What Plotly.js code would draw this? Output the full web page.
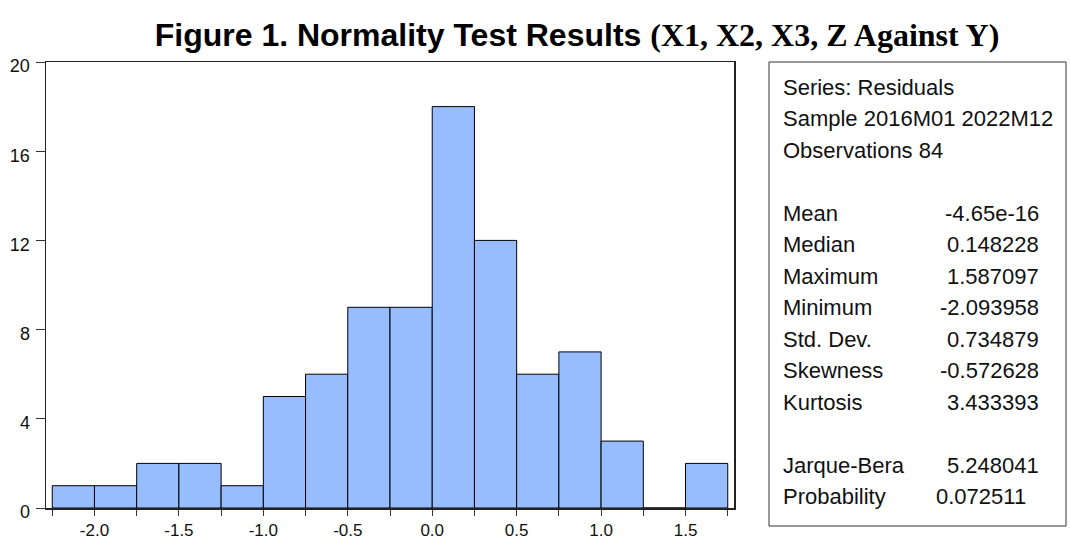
<!DOCTYPE html>
<html>
<head>
<meta charset="utf-8">
<script src="https://cdn.plot.ly/plotly-3.0.1.min.js"></script>
<style>html,body{margin:0;padding:0;background:#fff;}#chart{width:1070px;height:539px;}</style>
</head>
<body>
<div id="chart"></div>
<script>
// ---- data ----
const binLower = [-2.25, -2.0, -1.75, -1.5, -1.25, -1.0, -0.75, -0.5, -0.25, 0.0, 0.25, 0.5, 0.75, 1.0, 1.25, 1.5];
const binCounts = [1, 1, 2, 2, 1, 5, 6, 9, 9, 18, 12, 6, 7, 3, 0, 2];
const binWidth = 0.25;
const headerLines = ["Series: Residuals", "Sample 2016M01 2022M12", "Observations 84"];
const statNames = ["Mean", "Median", "Maximum", "Minimum", "Std. Dev.", "Skewness", "Kurtosis"];
const statValues = ["-4.65e-16", "0.148228", "1.587097", "-2.093958", "0.734879", "-0.572628", "3.433393"];
const testNames = ["Jarque-Bera", "Probability"];
const testValues = ["5.248041", "0.072511"];
const xTickVals = [-2.0, -1.5, -1.0, -0.5, 0.0, 0.5, 1.0, 1.5];
const xTickText = ["-2.0", "-1.5", "-1.0", "-0.5", "0.0", "0.5", "1.0", "1.5"];
const yTickVals = [0, 4, 8, 12, 16, 20];
const yTickText = ["0", "4", "8", "12", "16", "20"];

// ---- layout helpers ----
const W = 1070, H = 539;
const L = 46, R = 734, T = 62, B = 508;
const px2x = p => (p - L) / (R - L);
const py2y = p => (B - p) / (B - T);
const SANS = "Liberation Sans, Arial, sans-serif";

const trace = {
  type: "bar",
  x: binLower,
  y: binCounts,
  width: binLower.map(() => binWidth),
  offset: 0,
  marker: {color: "#97BDFF", line: {color: "#000", width: 1}},
  hoverinfo: "x+y"
};

const annotations = [];
const rowY = i => py2y(87 + i * 31.5);
const labelX = px2x(781);
const valueX = px2x(1041);
const FS = 22;
function addRow(i, label, value, vx) {
  annotations.push({xref: "paper", yref: "paper", x: labelX, y: rowY(i), xanchor: "left", yanchor: "middle",
    text: label, showarrow: false, font: {family: SANS, size: FS, color: "#111"}});
  if (value !== undefined) {
    annotations.push({xref: "paper", yref: "paper", x: vx, y: rowY(i), xanchor: "right", yanchor: "middle",
      text: value, showarrow: false, font: {family: SANS, size: FS, color: "#111"}});
  }
}
headerLines.forEach((t, i) => addRow(i, t));
statNames.forEach((t, i) => addRow(4 + i, t, statValues[i], valueX));
testNames.forEach((t, i) => addRow(12 + i, t, testValues[i], i === testNames.length - 1 ? px2x(1028) : valueX));

const layout = {
  width: W, height: H,
  margin: {l: L, r: W - R, t: T, b: H - B, pad: 0},
  paper_bgcolor: "#fff", plot_bgcolor: "#fff",
  showlegend: false,
  bargap: 0,
  title: {
    text: "<b>Figure 1. Normality Test Results <span style=\"font-family:'Liberation Serif', 'Times New Roman', serif\">(X1, X2, X3, Z Against Y)</span></b>",
    font: {family: SANS, size: 32, color: "#000"},
    x: 577 / W, xanchor: "center", xref: "container",
    y: 1 - 35 / H, yanchor: "middle", yref: "container"
  },
  xaxis: {
    range: [-2.287, 1.787],
    tickvals: xTickVals, ticktext: xTickText,
    ticks: "outside", ticklen: 6, tickwidth: 1, tickcolor: "#333",
    minor: {dtick: binWidth, tick0: 0, ticks: "outside", ticklen: 6, tickwidth: 1, tickcolor: "#333", showgrid: false},
    showline: true, mirror: true, linecolor: "#222", linewidth: 1.5,
    showgrid: false, zeroline: false,
    tickfont: {family: SANS, size: 17, color: "#111"}
  },
  yaxis: {
    range: [0, 20],
    tickvals: yTickVals, ticktext: yTickText,
    ticks: "outside", ticklen: 9, tickwidth: 1, tickcolor: "#333",
    ticklabelshift: 4, ticklabelstandoff: 2,
    showline: true, mirror: true, linecolor: "#222", linewidth: 1.5,
    showgrid: false, zeroline: false,
    tickfont: {family: SANS, size: 18, color: "#111"}
  },
  shapes: [{
    type: "rect", xref: "paper", yref: "paper",
    x0: px2x(769), x1: px2x(1066), y0: py2y(526), y1: py2y(62),
    line: {color: "#333", width: 1}, fillcolor: "rgba(0,0,0,0)"
  }],
  annotations: annotations
};

Plotly.newPlot("chart", [trace], layout, {displayModeBar: false, staticPlot: true});
</script>
</body>
</html>
